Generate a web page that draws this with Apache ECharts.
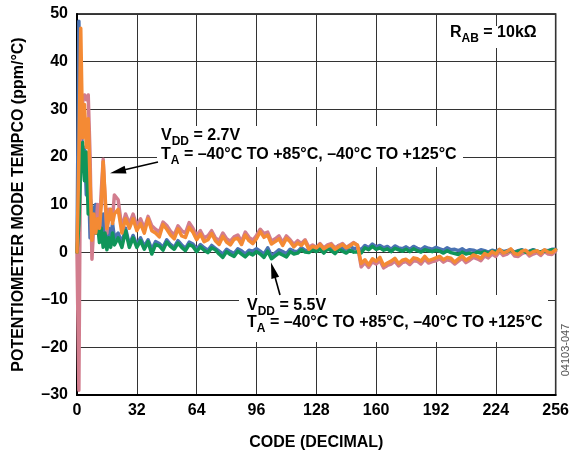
<!DOCTYPE html>
<html><head><meta charset="utf-8">
<script src="https://cdn.jsdelivr.net/npm/echarts@6/dist/echarts.min.js"></script>
<style>html,body{margin:0;padding:0;background:#fff}#c{width:572px;height:456px}</style>
</head><body><div id="c"></div>
<script>
// Sampled codes (x values)
const codes = [0,1,2,3,4,5,6,7,8,9,10,11,12,13,14,15,16,17,18,19,20,
  22,24,26,28,30,32,
  34,36,38,40,42,44,46,48,50,52,54,56,58,60,62,64,
  66,68,70,72,74,76,78,80,82,84,86,88,90,92,94,96,
  98,100,102,104,106,108,110,112,114,116,118,120,122,124,126,128,
  130,132,134,136,138,140,142,144,146,148,150,152,154,156,158,160,
  162,164,166,168,170,172,174,176,178,180,182,184,186,188,190,192,
  194,196,198,200,202,204,206,208,210,212,214,216,218,220,222,224,
  226,228,230,232,234,236,238,240,242,244,246,248,250,252,254,256];

// Tempco values (ppm/°C)
const blueSeries = [0,48.5,30,20,22,12,18,3,6,9,10,6,9,4,8,3,2,5,3,6,3,
  4,2,5,1.5,3.5,1.5,
  3,1.2,2.6,0.6,2.2,1.8,1,2.6,1.6,1,2.4,1.5,0.8,2.1,1.7,0.6,
  1.6,0.9,0.4,1.4,0.8,0.2,-0.4,0.6,0.1,-0.3,0.7,0.3,-0.4,0.4,0.2,0.7,
  0.2,-0.4,0.9,-0.7,-0.2,0.5,0.1,-0.3,0.6,0.2,0.1,0.9,0.4,0.3,0.9,0.4,
  1.1,0.4,1.3,1,0.5,1.4,0.9,0.6,1.3,0.7,0.9,0.5,1.4,0.9,1.7,1.1,
  1.4,0.9,1.2,0.6,1.3,0.9,0.7,1.1,0.6,1.2,0.8,0.5,1.1,0.8,0.6,1,
  0.7,0.4,0.9,0.5,0.6,0.3,0.7,0.2,0.5,0.4,0.1,0.5,0.3,0,0.4,0.2,
  0.5,0.1,0.3,0.5,0,0.3,0.5,0.1,0.2,0.5,0.2,0,0.4,0.3,0.6,0.6];
const pinkSeries = [0,-29,30,30,33,32,33,20,-1.5,6,4,10,5,13,19.5,11,4,9,8,7,12,
  11,5,8,6,8,5.5,
  7,5,7.5,5.5,4.8,4.2,6.3,5.6,4.4,3.6,5.5,4.5,4,6.2,5,3.5,
  4.5,3,3.4,4.5,3,2.4,4,2.8,2.3,3.2,3.6,2.2,4.2,3.1,2.5,3.5,
  4.8,3.9,4.2,2.3,2.8,3.4,2,3.4,2.6,1.6,2.4,1.8,2.6,1,1.5,1,
  1.8,0.9,1.5,1.8,0.9,1.4,1.8,1,1.5,2,1.4,-3.1,-2.2,-3.2,-2,-2.5,
  -1.8,-3.3,-2.8,-2.5,-1.9,-2.9,-2.2,-2,-2.6,-1.8,-1.9,-2.5,-1.5,-2.3,-2,-1.8,
  -1.4,-2.1,-1.6,-1.8,-2.5,-1.9,-1.3,-2.2,-1.7,-1.1,-1.4,-1.8,-0.8,-1.2,-0.4,-0.9,
  0.1,-0.7,-0.4,0.2,-0.8,-0.9,-0.3,0,-0.8,-0.4,-0.1,-0.7,0.1,-0.4,-0.5,0.2];
const greenSeries = [0,6,18,23,15,21,8,12,5,7,4,6,2,5,1,4,0.5,3,1,4,1.5,
  3,1,4.5,1,3,1,
  2.4,0.6,2.2,-0.4,1.6,1.3,0.4,2.1,1.2,0.6,1.9,1,0.3,1.6,1.2,0.1,
  1.1,0.4,-0.1,0.9,0.5,-0.4,-1.1,0.1,-0.5,-0.9,0.2,-0.4,-1,-0.2,-0.6,0.1,
  -0.4,-1.1,0.2,-1.4,-0.8,-0.2,-0.6,-1,0.1,-0.4,-0.2,0.5,0,-0.1,0.5,0.1,
  0.6,-0.2,0.7,0.3,-0.3,0.6,0.2,-0.2,0.4,0,0.1,-0.2,0.9,0.5,1.2,0.6,
  0.9,0.4,0.7,0.1,0.8,0.5,0.2,0.6,0.1,0.7,0.3,0,0.5,0.3,0.1,0.4,
  0.2,-0.2,0.3,-0.1,-0.3,-0.5,0,-0.4,-0.2,-0.5,0,-0.2,0.1,-0.3,0.2,0,
  0.4,0,0.1,0.4,-0.1,0.2,0.4,0,0.1,0.4,0.2,0,0.3,0.2,0.5,0.5];
const orangeSeries = [0,20,47,24,31,22,28,15,2.5,8,4,7,5,10,19,12,5,7,9,6,8,
  9,4,7,5,7,4.5,
  6,4,7,4.5,4,3.2,5.8,4.8,3.6,2.8,4.9,3.4,3.1,5.2,4.2,2.6,
  3.8,2.2,2.6,3.9,2.4,1.6,3.3,2.1,1.5,2.7,2.9,1.6,3.6,2.4,1.8,2.8,
  4.3,3.1,3.6,1.7,2.2,2.8,1.4,2.9,2.2,1.1,1.9,1.4,2.3,0.6,1.2,0.9,
  1.6,0.7,1.2,1.5,0.6,1.1,1.6,0.9,1.3,1.9,1.5,-2.4,-1.6,-2.7,-1.4,-1.9,
  -1.1,-2.8,-2.3,-1.9,-1.3,-2.4,-1.7,-1.5,-2.1,-1.2,-1.4,-1.9,-0.9,-1.8,-1.5,-1.2,
  -0.9,-1.6,-1.1,-1.3,-2.1,-1.4,-0.8,-1.7,-1.2,-0.6,-0.9,-1.3,-0.3,-0.7,0.1,-0.4,
  0.6,-0.2,0.1,0.7,-0.3,-0.5,0.2,0.4,-0.4,0.1,0.3,-0.3,0.5,0,-0.1,0.5];

const xTicks = [0,32,64,96,128,160,192,224,256];
const yTicks = [-30,-20,-10,0,10,20,30,40,50];

const FONT = '"Liberation Sans", Arial, Helvetica, sans-serif';
const FS = 16;

function pairs(v){ return codes.map((c,i)=>[c, v[i]]); }
function lineSeries(name, v, color){
  return {name, type:'line', data:pairs(v), showSymbol:false, symbol:'none',
    lineStyle:{color, width:3.5, join:'round', cap:'round'}, itemStyle:{color}, silent:true};
}

const chart = echarts.init(document.getElementById('c'), null, {renderer:'canvas'});
chart.setOption({
  animation:false,
  backgroundColor:'#fff',
  grid:{left:77, right:15, top:14, bottom:59, show:true, borderColor:'#000', borderWidth:1.5},
  xAxis:{type:'value', min:xTicks[0], max:xTicks[xTicks.length-1], interval:32,
    axisLine:{onZero:false, lineStyle:{color:'#000', width:2}},
    axisTick:{show:false},
    splitLine:{show:true, lineStyle:{color:'#333', width:1}},
    axisLabel:{margin:8, color:'#000', fontFamily:FONT, fontWeight:'bold', fontSize:FS},
    name:'CODE (DECIMAL)', nameLocation:'middle', nameGap:40,
    nameTextStyle:{color:'#000', fontFamily:FONT, fontWeight:'bold', fontSize:FS}},
  yAxis:{type:'value', min:yTicks[0], max:yTicks[yTicks.length-1], interval:10,
    axisLine:{onZero:false, lineStyle:{color:'#000', width:2}},
    axisTick:{show:false},
    splitLine:{show:true, lineStyle:{color:'#333', width:1}},
    axisLabel:{margin:9, color:'#000', fontFamily:FONT, fontWeight:'bold', fontSize:FS,
      formatter:v => (v<0 ? '\u2013' + Math.abs(v) : String(v))},
    name:'POTENTIOMETER MODE TEMPCO (ppm/°C)', nameLocation:'middle', nameGap:50,
    nameTextStyle:{color:'#000', fontFamily:FONT, fontWeight:'bold', fontSize:FS}},
  series:[
    lineSeries('blue', blueSeries, '#4a72b2'),
    lineSeries('pink', pinkSeries, '#d27d8e'),
    lineSeries('green', greenSeries, '#10955a'),
    lineSeries('orange', orangeSeries, '#f48a34')
  ]
});

// Annotations
const rich = {
  m:{fontFamily:FONT, fontWeight:'bold', fontSize:FS, lineHeight:16, verticalAlign:'top', fill:'#000', color:'#000'},
  s:{fontFamily:FONT, fontWeight:'bold', fontSize:12, lineHeight:12, verticalAlign:'top', padding:[8,0,0,0], fill:'#000', color:'#000'}
};
function txt(x, y, text){
  return {type:'text', x, y, z:20, style:{text, rich, align:'left', verticalAlign:'top', fill:'#000',
    font:'bold 16px ' + FONT}};
}
function box(x, y, w, h){
  return {type:'rect', z:15, shape:{x, y, width:w, height:h}, style:{fill:'#fff'}};
}
function arrow(sx, sy, tx, ty){
  const dx = tx - sx, dy = ty - sy, L = Math.hypot(dx, dy);
  const ux = dx / L, uy = dy / L, hl = 16, hw = 4;
  const bx = tx - ux * hl, by = ty - uy * hl;
  return [
    {type:'line', z:20, shape:{x1:sx, y1:sy, x2:bx + ux*2, y2:by + uy*2}, style:{stroke:'#000', lineWidth:1.6}},
    {type:'polygon', z:20, shape:{points:[[tx,ty],[bx - uy*hw, by + ux*hw],[bx + uy*hw, by - ux*hw]]}, style:{fill:'#000'}}
  ];
}
const DASH = '\u2013';
const taText = '{m|T}{s|A}{m| = ' + DASH + '40°C TO +85°C, ' + DASH + '40°C TO +125°C}';
chart.setOption({graphic:[
  box(447, 26, 95, 22),
  txt(450, 25, '{m|R}{s|AB}{m| = 10kΩ}'),
  box(157, 126, 306, 41),
  txt(161, 128, '{m|V}{s|DD}{m| = 2.7V}'),
  txt(161, 147, taText),
  box(239, 295, 309, 47),
  txt(247, 298, '{m|V}{s|DD}{m| = 5.5V}'),
  txt(247, 315, taText),
  ...arrow(158, 162, 110, 173.3),
  ...arrow(280, 295, 271, 262.5),
  {type:'text', x:566, y:350, rotation:Math.PI/2, z:20,
    style:{text:'04103-047', align:'center', verticalAlign:'middle', fill:'#555', font:'11px ' + FONT}}
]});
</script></body></html>
